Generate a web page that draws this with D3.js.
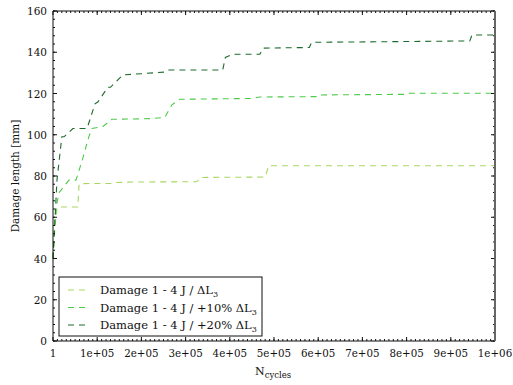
<!DOCTYPE html>
<html>
<head>
<meta charset="utf-8">
<script src="https://cdn.jsdelivr.net/npm/d3@7"></script>
<style>
  body { margin: 0; background: #fff; }
</style>
</head>
<body>
<svg id="chart" width="513" height="385" font-family="'DejaVu Serif', 'Liberation Serif', serif"></svg>
<script>
// series: damage length vs number of cycles
var cyclesBase = [1, 4500, 9000, 12000, 56000, 59000, 62000, 135000, 140000, 180000, 325000, 334000, 480000, 488000, 1000000];
var damageBase = [40, 55, 64.5, 65, 65, 76, 76.3, 76.4, 76.8, 77.1, 77.2, 79.3, 79.5, 85, 85];

var cyclesPlus10 = [1, 4000, 8000, 14000, 36000, 52000, 68000, 81000, 88000, 113000, 133000, 220000, 253000, 269000, 287000, 450000, 468000, 598000, 602000, 800000, 806000, 1000000];
var damagePlus10 = [40, 58, 66, 72, 78, 78, 89, 99, 103, 104, 107.5, 107.8, 108.4, 114.5, 117.2, 117.6, 118.3, 118.5, 119.3, 119.6, 120.1, 120.1];

var cyclesPlus20 = [1, 9000, 20000, 25000, 45000, 77000, 95000, 102000, 124000, 130000, 158000, 200000, 254000, 262000, 384000, 390000, 406000, 468000, 475000, 580000, 585000, 800000, 943000, 948000, 1000000];
var damagePlus20 = [40, 78, 99, 99, 103, 103, 115, 116, 123, 123, 129, 129.6, 130.4, 131.4, 131.4, 137.5, 139, 139, 142, 142.3, 144.8, 145.2, 145.5, 148.4, 148.4];

var seriesNames = ["Damage 1 - 4 J / \u0394L", "Damage 1 - 4 J / +10% \u0394L", "Damage 1 - 4 J / +20% \u0394L"];
var seriesColors = ["#a8d663", "#4ccb48", "#1d6b2c"];

var xTickValues = [1, 1e5, 2e5, 3e5, 4e5, 5e5, 6e5, 7e5, 8e5, 9e5, 1e6];
var xTickLabels = ["1", "1e+05", "2e+05", "3e+05", "4e+05", "5e+05", "6e+05", "7e+05", "8e+05", "9e+05", "1e+06"];
var yTickValues = [0, 20, 40, 60, 80, 100, 120, 140, 160];

var svg = d3.select("#chart");
var margin = {left: 53, top: 11, right: 18, bottom: 44};
var width = 513 - margin.left - margin.right;
var height = 385 - margin.top - margin.bottom;

var x = d3.scaleLinear().domain([1, 1e6]).range([0, width]);
var y = d3.scaleLinear().domain([0, 160]).range([height, 0]);

var g = svg.append("g").attr("transform", "translate(" + margin.left + "," + margin.top + ")");

var series = [
	{xs: cyclesBase, ys: damageBase},
	{xs: cyclesPlus10, ys: damagePlus10},
	{xs: cyclesPlus20, ys: damagePlus20}
];

var line = d3.line().x(function(d) {return x(d[0]);}).y(function(d) {return y(d[1]);});

series.forEach(function(s, i) {
	var pts = s.xs.map(function(v, k) {return [v, s.ys[k]];});
	g.append("path")
		.attr("d", line(pts))
		.attr("fill", "none")
		.attr("stroke", seriesColors[i])
		.attr("stroke-width", 1.1)
		.attr("stroke-dasharray", "6,5");
});

// minor ticks
var xMinor = d3.range(1, 101).map(function(k) {return k * 1e4;});
var yMinor = d3.range(0, 161, 4);

function tickLines(vals, scale, len, horiz, edge, dir) {
	vals.forEach(function(v) {
		var p = scale(v);
		if (horiz) {
			g.append("line").attr("x1", p).attr("x2", p).attr("y1", edge).attr("y2", edge + dir * len)
				.attr("stroke", "#111").attr("stroke-width", 1);
		} else {
			g.append("line").attr("y1", p).attr("y2", p).attr("x1", edge).attr("x2", edge + dir * len)
				.attr("stroke", "#111").attr("stroke-width", 1);
		}
	});
}
tickLines(xMinor, x, 2, true, height, -1);
tickLines(xMinor, x, 2, true, 0, 1);
tickLines(xTickValues, x, 4, true, height, -1);
tickLines(xTickValues, x, 4, true, 0, 1);
tickLines(yMinor, y, 2, false, 0, 1);
tickLines(yMinor, y, 2, false, width, -1);
tickLines(yTickValues, y, 4, false, 0, 1);
tickLines(yTickValues, y, 4, false, width, -1);

// frame
g.append("line").attr("x1", 0).attr("x2", width).attr("y1", 0).attr("y2", 0).attr("stroke", "#111");
g.append("line").attr("x1", 0).attr("x2", width).attr("y1", height).attr("y2", height).attr("stroke", "#111");
g.append("line").attr("x1", 0).attr("x2", 0).attr("y1", 0).attr("y2", height).attr("stroke", "#111");
g.append("line").attr("x1", width).attr("x2", width).attr("y1", 0).attr("y2", height).attr("stroke", "#666").attr("stroke-width", 2);

// tick labels
xTickValues.forEach(function(v, i) {
	g.append("text").attr("x", x(v)).attr("y", height + 16)
		.attr("text-anchor", "middle").attr("font-size", "10.3px").attr("fill", "#111").text(xTickLabels[i]);
});
yTickValues.forEach(function(v) {
	g.append("text").attr("x", -6).attr("y", y(v) + 4)
		.attr("text-anchor", "end").attr("font-size", "10.5px").attr("fill", "#111").text(v);
});

// axis titles
var xt = svg.append("text").attr("x", 255).attr("y", 375).attr("font-size", "11px").attr("fill", "#111");
xt.append("tspan").text("N");
xt.append("tspan").attr("dy", 3).attr("font-size", "8.5px").text("cycles");

svg.append("text")
	.attr("transform", "translate(19," + (margin.top + height / 2) + ") rotate(-90)")
	.attr("text-anchor", "middle").attr("font-size", "10.5px").attr("fill", "#111")
	.text("Damage length [mm]");

// legend
var lg = svg.append("g").attr("transform", "translate(59,277)");
lg.append("rect").attr("width", 203).attr("height", 59)
	.attr("fill", "#fff").attr("stroke", "#111").attr("stroke-width", 1);
seriesNames.forEach(function(name, i) {
	var ly = 13 + i * 17.5;
	lg.append("line").attr("x1", 9).attr("x2", 27).attr("y1", ly).attr("y2", ly)
		.attr("stroke", seriesColors[i]).attr("stroke-width", 1.1).attr("stroke-dasharray", "6,5");
	var t = lg.append("text").attr("x", 41).attr("y", ly + 4).attr("font-size", "11.5px").attr("fill", "#111");
	t.append("tspan").text(name);
	t.append("tspan").attr("dy", 3).attr("font-size", "8px").text("3");
});
</script>
</body>
</html>
